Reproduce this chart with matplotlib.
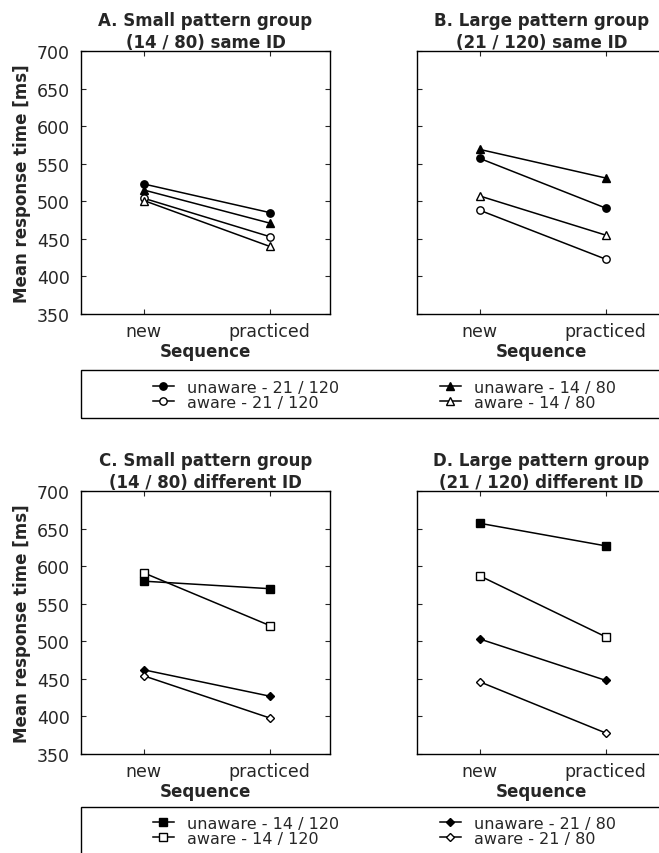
import matplotlib
matplotlib.use("Agg")
import matplotlib.pyplot as plt
from matplotlib.lines import Line2D
from matplotlib.patches import Rectangle

plt.rcParams['font.family'] = ['DejaVu Sans']

sequence = ["new", "practiced"]
x = [1, 2]

# panel A - small pattern group (14 / 80) same ID
a_unaware_21_120 = [523, 485]
a_unaware_14_80 = [515, 471]
a_aware_21_120 = [504, 453]
a_aware_14_80 = [501, 440]

# panel B - large pattern group (21 / 120) same ID
b_unaware_21_120 = [557, 491]
b_unaware_14_80 = [569, 531]
b_aware_21_120 = [488, 423]
b_aware_14_80 = [507, 455]

# panel C - small pattern group (14 / 80) different ID
c_unaware_14_120 = [580, 570]
c_aware_14_120 = [591, 521]
c_unaware_21_80 = [462, 427]
c_aware_21_80 = [454, 398]

# panel D - large pattern group (21 / 120) different ID
d_unaware_14_120 = [657, 627]
d_aware_14_120 = [587, 506]
d_unaware_21_80 = [503, 448]
d_aware_21_80 = [446, 378]

titles = ["A. Small pattern group\n(14 / 80) same ID",
          "B. Large pattern group\n(21 / 120) same ID",
          "C. Small pattern group\n(14 / 80) different ID",
          "D. Large pattern group\n(21 / 120) different ID"]

top_labels = ["unaware - 21 / 120", "aware - 21 / 120", "unaware - 14 / 80", "aware - 14 / 80"]
bot_labels = ["unaware - 14 / 120", "aware - 14 / 120", "unaware - 21 / 80", "aware - 21 / 80"]

# marker styles: (marker, size, filled)
sty_circle = ("o", 5.3, True)
sty_circle_o = ("o", 5.3, False)
sty_tri = ("^", 5.5, True)
sty_tri_o = ("^", 5.5, False)
sty_sq = ("s", 5.2, True)
sty_sq_o = ("s", 5.2, False)
sty_dia = ("D", 4.2, True)
sty_dia_o = ("D", 4.2, False)

top_styles = [sty_circle, sty_circle_o, sty_tri, sty_tri_o]
bot_styles = [sty_sq, sty_sq_o, sty_dia, sty_dia_o]

panels = [
    [a_unaware_21_120, a_aware_21_120, a_unaware_14_80, a_aware_14_80],
    [b_unaware_21_120, b_aware_21_120, b_unaware_14_80, b_aware_14_80],
    [c_unaware_14_120, c_aware_14_120, c_unaware_21_80, c_aware_21_80],
    [d_unaware_14_120, d_aware_14_120, d_unaware_21_80, d_aware_21_80],
]

W, H = 659, 854
fig = plt.figure(figsize=(W / 100, H / 100), dpi=100)

def fx(px):
    return px / W

def fy(py):
    return (H - py) / H

ax_w = 249 / W
ax_h = 263 / H
rects = [
    [fx(81), fy(315), ax_w, ax_h],
    [fx(417), fy(315), ax_w, ax_h],
    [fx(81), fy(755), ax_w, ax_h],
    [fx(417), fy(755), ax_w, ax_h],
]

def line_kw(style):
    m, ms, filled = style
    return dict(color="black", lw=1.1, marker=m, markersize=ms,
                markerfacecolor="black" if filled else "white",
                markeredgecolor="black", markeredgewidth=1.0)

for i, (r, series) in enumerate(zip(rects, panels)):
    ax = fig.add_axes(r)
    styles = top_styles if i < 2 else bot_styles
    for vals, st in zip(series, styles):
        ax.plot(x, vals, **line_kw(st))
    ax.set_xlim(0.5, 2.48)
    ax.set_ylim(350, 700)
    ax.set_yticks(range(350, 701, 50))
    ax.set_xticks(x)
    ax.set_xticklabels(sequence)
    ax.tick_params(direction="in", top=True, right=True, length=3.5, width=0.8,
                   labelsize=12.5, colors="#262626")
    ax.tick_params(axis="x", pad=6)
    ax.tick_params(axis="y", pad=8)
    for s in ax.spines.values():
        s.set_linewidth(1.0)
        s.set_color("black")
    ax.set_title(titles[i], fontsize=12, fontweight="bold", pad=3, color="#262626",
                 linespacing=1.25)
    ax.set_xlabel("Sequence", fontsize=12, fontweight="bold", labelpad=1, color="#262626")
    if i % 2 == 0:
        ax.set_ylabel("Mean response time [ms]", fontsize=12, fontweight="bold",
                      labelpad=4, color="#262626")
    else:
        ax.set_yticklabels([])

def add_legend(labels, styles, top_px, row_center_px):
    box = Rectangle((fx(81), fy(top_px + 48.3)), 1.0, 48.3 / H,
                    transform=fig.transFigure, fill=False, edgecolor="black", lw=1.0)
    fig.patches.append(box)
    handles = [Line2D([0], [0], **line_kw(st)) for st in styles]
    for col, xh in enumerate([153, 440]):
        fig.legend(handles[2 * col:2 * col + 2], labels[2 * col:2 * col + 2],
                   loc="center left", bbox_to_anchor=(fx(xh), fy(row_center_px)),
                   frameon=False, borderpad=0, borderaxespad=0, handlelength=1.3,
                   handletextpad=0.8, labelspacing=0.0, fontsize=11.5,
                   labelcolor="#262626")

add_legend(top_labels, top_styles, 371, 396)
add_legend(bot_labels, bot_styles, 808.3, 831.7)

fig.savefig("out.png", dpi=100)
